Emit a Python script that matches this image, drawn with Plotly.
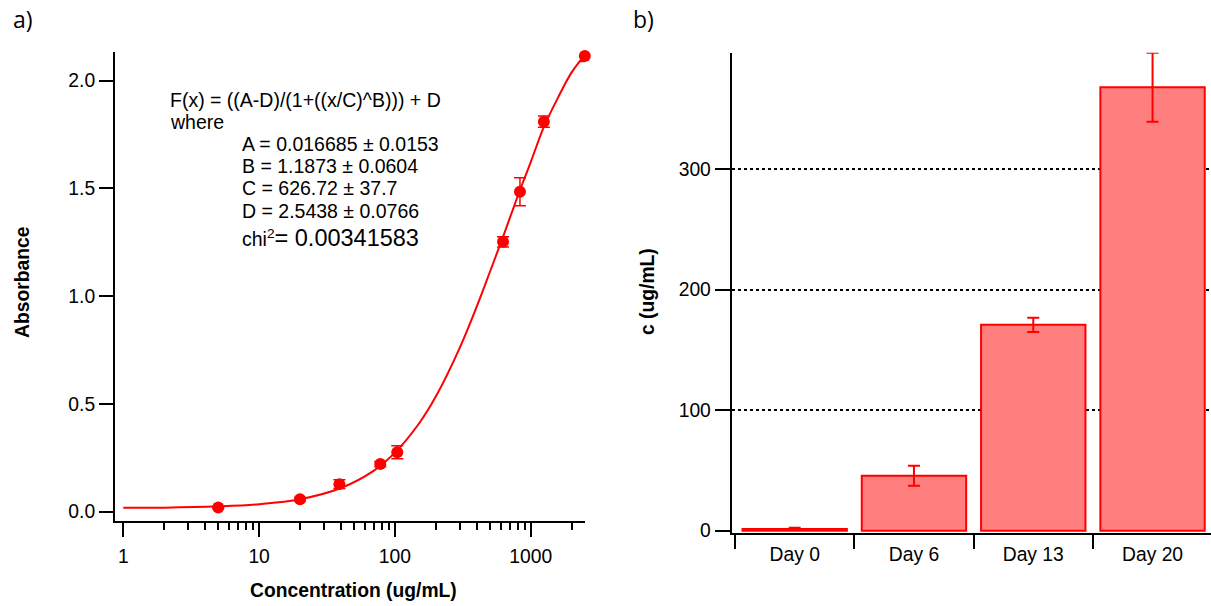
import plotly.graph_objects as go

W, H = 1211, 606

# ---------------- data: panel a) ----------------
conc = [5, 20, 39, 78, 104, 625, 833, 1250, 2500]
absorbance = [0.020, 0.058, 0.128, 0.221, 0.276, 1.252, 1.484, 1.809, 2.114]
absorbance_err = [0.005, 0.008, 0.02, 0.012, 0.03, 0.024, 0.065, 0.026, 0.026]

fit_x = [1, 2, 5, 10, 20, 40, 70, 100, 150, 200, 300, 400, 500, 625, 800,
         1000, 1250, 1600, 2000, 2500]
fit_y = [0.018, 0.019, 0.025, 0.035, 0.058, 0.110, 0.191, 0.274, 0.408, 0.534,
         0.760, 0.951, 1.112, 1.275, 1.462, 1.622, 1.785, 1.925, 2.038, 2.118]

x_tick_vals = [1, 10, 100, 1000]
x_tick_text = ["1", "10", "100", "1000"]
x_minor_vals = [2, 3, 4, 5, 6, 7, 8, 9, 20, 30, 40, 50, 60, 70, 80, 90,
                200, 300, 400, 500, 600, 700, 800, 900, 2000]
y_tick_vals = [0, 0.5, 1.0, 1.5, 2.0]
y_tick_text = ["0.0", "0.5", "1.0", "1.5", "2.0"]

fit_lines = [
    "F(x) = ((A-D)/(1+((x/C)^B))) + D",
    "where",
]
param_lines = [
    "A = 0.016685 ± 0.0153",
    "B = 1.1873 ± 0.0604",
    "C = 626.72 ± 37.7",
    "D = 2.5438 ± 0.0766",
]
chi2_value = "0.00341583"

# ---------------- data: panel b) ----------------
days = ["Day 0", "Day 6", "Day 13", "Day 20"]
conc_c = [1.5, 45.5, 170.7, 367.8]
conc_c_err = [1.0, 8.3, 6.0, 28.6]
c_tick_vals = [0, 100, 200, 300]
c_grid_vals = [100, 200, 300]

RED = "#FF0000"
FONT = "Liberation Sans, Arial, Helvetica, sans-serif"


def px(x):
    return x / W


def py(y):
    return 1 - y / H


fig = go.Figure()

fig.add_trace(go.Scatter(
    x=fit_x, y=fit_y, mode="lines", line=dict(color=RED, width=2, shape="spline"),
    xaxis="x", yaxis="y", showlegend=False, hoverinfo="skip"))

fig.add_trace(go.Scatter(
    x=conc, y=absorbance, mode="markers", cliponaxis=False,
    marker=dict(color=RED, size=12),
    error_y=dict(type="data", array=absorbance_err, color=RED, thickness=1.5, width=6),
    xaxis="x", yaxis="y", showlegend=False))

fig.add_trace(go.Bar(
    x=days, y=conc_c,
    marker=dict(color="#FF7F7F", line=dict(color=RED, width=2)),
    error_y=dict(type="data", array=conc_c_err, color=RED, thickness=2, width=6),
    xaxis="x2", yaxis="y2", showlegend=False))

axis_common = dict(showline=True, linecolor="black", linewidth=2, ticks="outside",
                   tickcolor="black", tickwidth=2, showgrid=False, zeroline=False,
                   automargin=False,
                   tickfont=dict(family=FONT, size=19.3, color="black"))

fig.update_layout(
    template="none",
    width=W, height=H,
    margin=dict(l=0, r=0, t=0, b=0, pad=0, autoexpand=False),
    paper_bgcolor="white", plot_bgcolor="white",
    showlegend=False,
    bargap=0.125,
    font=dict(family=FONT, size=19.3, color="black"),
    xaxis=dict(type="log", domain=[px(115), px(585)], range=[-0.0611, 3.3995],
               tickvals=x_tick_vals, ticktext=x_tick_text, ticklen=14,
               ticklabelstandoff=3,
               minor=dict(tickvals=x_minor_vals, ticks="outside", ticklen=7,
                          tickwidth=2, tickcolor="black", showgrid=False),
               anchor="y", **axis_common),
    yaxis=dict(domain=[py(521), py(52.3)], range=[-0.043, 2.131],
               tickvals=y_tick_vals, ticktext=y_tick_text, ticklen=14,
               anchor="x", **axis_common),
    xaxis2=dict(type="category", domain=[px(731.7), 1.0], range=[-0.528, 3.49],
                tickson="boundaries", ticklen=14, ticklabelstandoff=3,
                anchor="y2", **axis_common),
    yaxis2=dict(domain=[py(533), py(52.7)], range=[-1.9, 396.4],
                tickvals=c_tick_vals, ticklen=15, anchor="x2",
                minor=dict(tickvals=c_grid_vals, ticks="", showgrid=True,
                           gridcolor="black", gridwidth=1.5, griddash="dot"),
                **axis_common),
)

ann = []
# axis titles
ann.append(dict(text="<b>Absorbance</b>", x=px(22), y=py(282), textangle=-90,
                font=dict(size=19.3)))
ann.append(dict(text="<b>Concentration (ug/mL)</b>", x=px(353.7), y=py(590),
                font=dict(size=19.3)))
ann.append(dict(text="<b>c (ug/mL)</b>", x=px(647.3), y=py(291.7), textangle=-90,
                font=dict(size=19.3)))
# panel labels
ann.append(dict(text="a)", x=px(11), y=py(19), xanchor="left",
                font=dict(family="Open Sans, DejaVu Sans, sans-serif", size=23)))
ann.append(dict(text="b)", x=px(631), y=py(19), xanchor="left",
                font=dict(family="Open Sans, DejaVu Sans, sans-serif", size=23)))
# fit annotation
for i, t in enumerate(fit_lines):
    ann.append(dict(text=t, x=px(167.5), y=py(100 + 21.7 * i), xanchor="left",
                    font=dict(size=19.5)))
for i, t in enumerate(param_lines):
    ann.append(dict(text=t, x=px(239.5), y=py(144 + 22.2 * i), xanchor="left",
                    font=dict(size=19.5)))
ann.append(dict(text="chi<sup>2</sup><span style='font-size:23.5px'>= " + chi2_value + "</span>",
                x=px(239.5), y=py(238), xanchor="left", font=dict(size=19.5)))

for a in ann:
    a.update(xref="paper", yref="paper", showarrow=False)
    a.setdefault("xanchor", "center")
    a.setdefault("yanchor", "middle")
fig.update_layout(annotations=ann)

fig.write_html("out.html")
